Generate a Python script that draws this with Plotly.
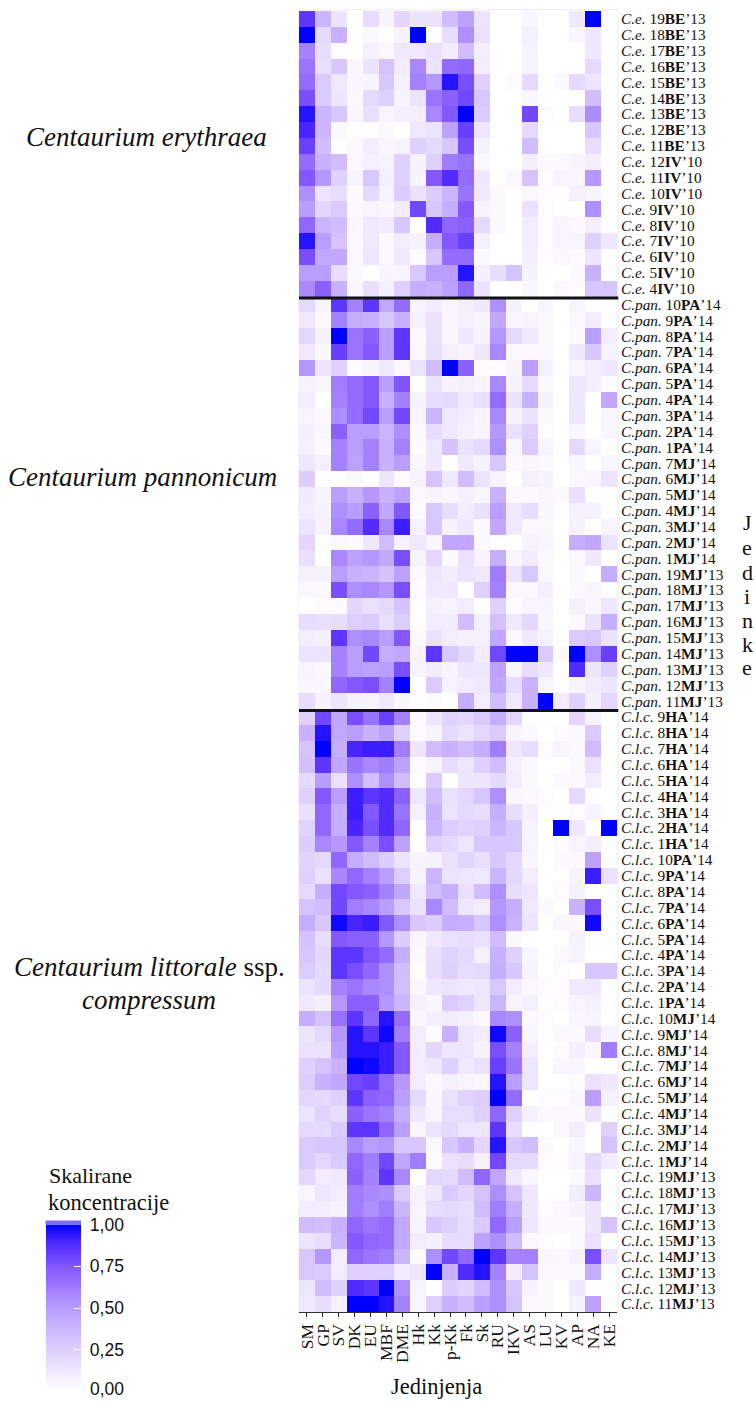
import plotly.graph_objects as go

compounds = ["SM","GP","SV","DK","EU","MBF","DME","Hk","Kk","p-Kk","Fk","Sk","RU","IKV","AS","LU","KV","AP","NA","KE"]

def names(prefix, groups):
    out = []
    for nums, site, yr in groups:
        for n in nums:
            out.append(f"<i>{prefix}</i> {n}<b>{site}</b>’{yr}")
    return out

labels_ce = names("C.e.", [([19,18,17,16,15,14,13,12,11], "BE", 13), ([12,11,10,9,8,7,6,5,4], "IV", 10)])
labels_pan = names("C.pan.", [([10,9,8,7,6,5,4,3,2,1], "PA", 14), ([7,6,5,4,3,2,1], "MJ", 14), ([19,18,17,16,15,14,13,12,11], "MJ", 13)])
labels_lc = names("C.l.c.", [([9,8,7,6,5,4,3,2,1], "HA", 14), ([10,9,8,7,6,5,4,3,2,1], "PA", 14), ([10,9,8,7,6,5,4,3,2,1], "MJ", 14), ([19,18,17,16,15,14,13,12,11], "MJ", 13)])

values_ce = [
[85,38,15,0,18,6,22,15,15,35,48,15,0,0,5,0,0,12,100,0],
[100,20,40,0,3,0,7,100,0,18,55,16,0,0,8,0,0,5,12,0],
[60,18,2,0,8,4,12,12,16,10,35,9,0,0,7,0,0,0,12,0],
[65,17,30,5,15,32,10,58,15,68,70,10,0,0,6,0,0,0,20,0],
[68,28,12,5,6,30,8,60,52,95,78,25,0,2,20,0,3,20,14,0],
[78,28,14,4,20,25,7,15,65,72,80,30,0,0,5,0,0,0,35,0],
[95,38,30,5,17,6,9,9,58,75,100,28,0,0,80,2,0,18,56,0],
[90,38,3,0,0,3,0,12,15,48,82,14,0,0,20,0,0,0,30,0],
[82,35,0,3,10,5,7,25,20,30,78,7,0,0,35,0,0,0,18,0],
[68,40,35,4,8,7,25,7,25,62,66,3,0,0,9,3,3,6,9,0],
[75,52,25,6,30,8,25,6,75,88,68,12,0,4,32,2,6,5,52,0],
[55,15,18,2,20,7,27,16,27,38,65,12,3,0,4,2,2,8,6,0],
[50,22,28,3,6,5,10,80,30,42,75,6,3,0,16,2,0,0,55,0],
[70,38,35,5,12,10,30,0,88,70,72,20,3,0,10,2,6,3,9,0],
[95,50,32,3,12,4,10,7,42,75,82,8,0,0,10,2,6,6,25,13],
[78,45,45,4,13,4,11,2,30,68,68,3,0,0,9,2,4,2,14,0],
[50,50,18,4,0,6,6,30,50,50,95,8,18,32,7,0,0,3,40,0],
[58,72,40,5,17,8,25,42,40,48,70,15,0,0,5,0,3,2,30,30],
]

values_pan = [
[20,6,85,60,85,45,68,6,10,6,9,12,55,7,0,6,0,6,0,0],
[12,4,60,42,40,30,40,8,16,5,8,6,45,5,6,4,0,4,10,0],
[22,7,100,65,72,50,85,3,16,5,13,7,52,20,12,3,0,2,50,10],
[12,5,82,65,75,50,85,4,17,8,6,13,58,4,4,3,0,12,30,7],
[52,14,25,2,6,12,3,15,35,100,72,2,2,6,50,8,0,5,9,12],
[7,5,62,68,75,50,76,0,15,7,8,6,58,7,20,3,0,14,9,0],
[10,0,60,68,75,40,60,7,18,20,12,17,68,15,40,7,0,13,0,45],
[6,4,55,68,80,50,80,6,38,12,10,6,58,7,15,3,0,14,0,5],
[9,5,72,50,50,38,55,3,18,12,8,6,52,16,25,2,0,5,0,5],
[8,3,60,50,60,40,60,2,12,32,15,20,55,5,28,6,0,20,6,0],
[13,8,60,48,60,40,50,5,12,0,12,7,30,3,5,3,0,5,0,5],
[27,0,0,3,0,14,2,7,32,12,35,15,6,0,8,7,0,4,5,15],
[11,6,50,40,52,40,48,3,6,5,8,5,40,3,3,5,3,17,0,0],
[10,7,55,50,72,45,75,2,30,18,10,17,50,12,18,5,1,8,8,0],
[15,7,58,68,88,58,92,7,30,7,12,2,45,12,4,4,0,7,0,6],
[22,0,4,3,12,35,7,12,5,45,45,3,0,0,7,5,1,42,45,15],
[17,0,58,48,52,44,78,6,22,3,16,6,42,5,10,3,1,3,12,0],
[8,8,50,40,38,32,48,3,14,10,15,12,62,15,30,4,0,4,0,42],
[4,4,78,55,58,52,78,2,12,12,0,25,60,4,4,9,0,3,6,0],
[0,2,2,22,16,20,32,0,8,7,10,0,25,2,6,6,0,8,5,14],
[18,17,18,26,28,17,27,0,10,10,35,8,33,12,22,5,0,3,15,42],
[10,8,85,55,58,50,75,3,16,10,8,8,45,4,12,7,0,28,30,15],
[15,15,60,50,80,42,45,6,85,30,20,10,80,100,100,28,3,100,55,82],
[6,4,60,50,48,50,78,6,10,6,14,14,48,5,18,12,0,88,14,25],
[5,5,70,75,78,60,100,0,28,7,10,12,45,18,40,6,0,6,10,14],
[18,7,14,7,6,12,5,0,2,0,42,10,35,12,40,100,10,25,8,22],
]

values_lc = [
[25,80,45,78,65,82,60,2,14,24,22,28,42,22,0,0,0,22,7,0],
[40,95,45,50,40,48,25,2,6,20,15,22,28,6,3,0,2,3,28,0],
[32,100,42,90,92,92,62,14,35,40,35,42,62,14,18,2,6,3,35,0],
[33,85,45,65,58,62,48,2,6,18,14,25,35,8,3,0,0,3,16,0],
[20,50,16,55,33,55,35,0,28,0,14,14,20,10,3,0,3,3,10,0],
[25,75,50,92,85,88,72,14,35,16,22,30,55,5,3,2,0,20,0,0],
[17,70,42,92,75,88,65,8,40,15,20,18,42,18,9,0,0,2,6,0],
[24,70,42,90,78,88,70,0,38,27,24,25,38,30,7,0,100,12,0,100],
[27,58,52,75,60,78,48,0,25,20,14,30,30,30,6,0,2,6,9,0],
[24,20,70,42,35,27,15,6,7,16,23,17,30,22,5,0,3,3,48,0],
[25,16,58,70,60,50,26,6,38,15,14,12,38,22,10,0,0,6,92,16],
[20,42,80,75,72,60,45,12,35,42,17,35,55,18,14,0,2,8,0,0],
[32,35,80,62,58,50,30,15,58,35,14,10,52,42,12,3,0,40,78,0],
[42,30,98,90,92,75,55,30,27,42,40,30,55,40,15,0,5,4,98,0],
[32,18,75,72,72,52,27,5,12,16,18,16,35,3,0,0,0,7,0,0],
[30,22,85,85,76,68,42,3,17,24,20,8,40,25,5,0,3,6,0,0],
[27,20,85,78,70,55,35,0,18,25,18,20,42,30,7,0,2,0,30,30],
[15,20,60,65,58,55,34,5,13,15,12,14,30,10,4,2,2,12,12,0],
[12,9,52,72,72,52,38,8,5,28,24,13,38,7,8,0,2,6,8,0],
[42,32,66,85,70,95,68,5,9,10,8,4,58,55,3,2,0,5,6,0],
[14,20,52,95,85,98,62,10,2,40,14,10,98,72,5,1,4,3,18,6],
[16,16,50,95,95,92,75,10,22,13,14,7,78,60,9,0,2,9,5,62],
[25,32,40,100,98,92,75,10,12,25,12,16,82,65,14,0,5,5,0,0],
[27,40,45,80,82,68,52,10,4,8,6,5,95,50,14,0,0,2,16,12],
[22,20,25,85,72,70,50,20,5,16,24,26,100,68,0,2,2,5,50,8],
[15,24,18,72,65,60,42,13,6,18,18,25,70,25,8,3,4,3,15,0],
[20,20,28,85,85,70,50,5,15,20,13,14,85,18,0,0,4,10,0,25],
[28,30,30,58,50,52,30,30,4,30,40,22,95,30,35,3,0,5,0,32],
[28,22,28,70,62,80,45,62,2,16,18,8,80,20,20,2,2,6,20,10],
[22,10,12,72,60,85,58,0,22,20,35,70,45,12,5,0,0,3,16,0],
[6,14,10,62,58,55,28,7,12,28,22,32,55,32,13,0,0,10,38,0],
[10,10,7,62,55,62,38,6,18,20,17,35,62,42,12,2,4,7,14,0],
[35,33,40,70,65,68,45,6,30,25,18,28,70,50,14,4,4,3,14,32],
[14,18,38,75,70,68,45,10,8,18,18,48,55,35,3,2,0,3,16,0],
[30,52,10,70,65,62,38,2,55,80,70,100,85,60,60,5,4,8,78,14],
[30,28,10,25,25,25,10,14,100,40,88,95,60,10,32,3,3,3,42,0],
[14,35,25,88,85,100,55,6,0,27,24,35,55,30,7,3,0,12,0,0],
[12,18,8,100,100,95,60,6,26,40,35,50,55,32,3,3,0,7,48,0],
]

legend_ticks = [0.25, 0.5, 0.75, 1]
legend_text = ["\u00a00,25", "\u00a00,50", "\u00a00,75", "\u00a01,00"]
legend_zero = "0,00"

row_labels = labels_ce + labels_pan + labels_lc
z = [[v / 100 for v in row] for row in values_ce + values_pan + values_lc]

W, H = 756, 1401
L, R, T, B = 299.4, 616.9, 10.5, 1311.6
SERIF = "Liberation Serif"
SANS = "Liberation Sans"
scale = [[0, "#FFFFFF"], [0.25, "#E0D0FF"], [0.5, "#B99DFF"], [0.75, "#8458FF"], [0.9, "#4A24FF"], [1, "#0000FF"]]
BAR_X0, BAR_W, BAR_TOP, BAR_BOT = 46.3, 35.4, 1224.7, 1391.5

fig = go.Figure(go.Heatmap(
    z=z, x=compounds, y=row_labels, zmin=0, zmax=1, colorscale=scale,
    colorbar=dict(
        xref="container", yref="container",
        x=BAR_X0 / W, xanchor="left", xpad=0, ypad=0,
        y=1 - BAR_TOP / (B - T), yanchor="top", len=BAR_BOT - BAR_TOP, lenmode="pixels",
        thickness=BAR_W, thicknessmode="pixels", outlinewidth=0, borderwidth=0,
        tickvals=legend_ticks, ticktext=legend_text, ticks="inside", ticklen=7,
        tickcolor="white", tickwidth=1,
        tickfont=dict(family=SANS, size=17.5, color="#111"),
    ),
))

fig.update_layout(
    width=W, height=H, autosize=False,
    margin=dict(l=L, r=W - R, t=T, b=H - B, pad=0),
    paper_bgcolor="white", plot_bgcolor="white",
    font=dict(family=SERIF, color="black"),
    xaxis=dict(side="bottom", tickangle=-90, ticks="outside", ticklen=4, tickcolor="#222",
               tickmode="array", tickvals=compounds, ticktext=compounds,
               tickfont=dict(family=SERIF, size=17.5, color="#111"), showline=True, linecolor="#333",
               linewidth=1, showgrid=False, zeroline=False, automargin=False),
    yaxis=dict(side="right", autorange="reversed", ticks="", showgrid=False, zeroline=False,
               tickfont=dict(family=SERIF, size=15.3, color="#111"), ticklabelstandoff=3,
               tickmode="array", tickvals=row_labels, ticktext=row_labels, automargin=False),
)

# separators between the species blocks
for k in (len(labels_ce), len(labels_ce) + len(labels_pan)):
    fig.add_shape(type="line", xref="paper", x0=0, x1=1.004, yref="y", y0=k - 0.41, y1=k - 0.41,
                  line=dict(color="#111", width=3))

# right/top pale panel edge
fig.add_shape(type="rect", xref="paper", yref="paper", x0=0, x1=1.003, y0=0, y1=1.001,
              line=dict(color="#EBEBEB", width=1), layer="below")

def px_x(x):
    return (x - L) / (R - L)

def px_y(y):
    return (B - y) / (B - T)

# left-hand half of the legend tick marks
for t in legend_ticks:
    y = BAR_BOT - t * (BAR_BOT - BAR_TOP)
    fig.add_shape(type="line", xref="paper", yref="paper", x0=px_x(BAR_X0), x1=px_x(BAR_X0 + 7),
                  y0=px_y(y), y1=px_y(y), line=dict(color="white", width=1))

# pale cap of the legend bar above the 1,00 mark
fig.add_shape(type="rect", xref="paper", yref="paper", x0=px_x(BAR_X0), x1=px_x(BAR_X0 + BAR_W),
              y0=px_y(BAR_TOP), y1=px_y(BAR_TOP - 4.5), fillcolor="#7A6CFF", line=dict(width=0))

def px_note(text, x, y, size, anchor="center", family=SERIF, color="#111"):
    fig.add_annotation(text=text, xref="paper", yref="paper", x=px_x(x), y=px_y(y),
                       showarrow=False, xanchor=anchor, yanchor="middle", align="center",
                       font=dict(family=family, size=size, color=color))

px_note("<i>Centaurium erythraea</i>", 147, 137, 27)
px_note("<i>Centaurium pannonicum</i>", 143, 477, 27)
px_note("<i>Centaurium littorale</i> ssp.", 150, 967, 27)
px_note("<i>compressum</i>", 150, 1000, 27)
px_note("Jedinjenja", 437, 1386, 22.5)
px_note("Skalirane", 48, 1175, 22, anchor="left")
px_note("koncentracije", 47, 1202.5, 22.5, anchor="left")
px_note(legend_zero, 89, 1389, 17.5, anchor="left", family=SANS)

for ch, y in zip("Jedinke", (522, 547, 572, 596, 620, 644, 667)):
    px_note(ch, 747, y, 22)

fig.write_html("out.html", config=dict(displayModeBar=False),
               post_script="document.body.style.margin='0';")
